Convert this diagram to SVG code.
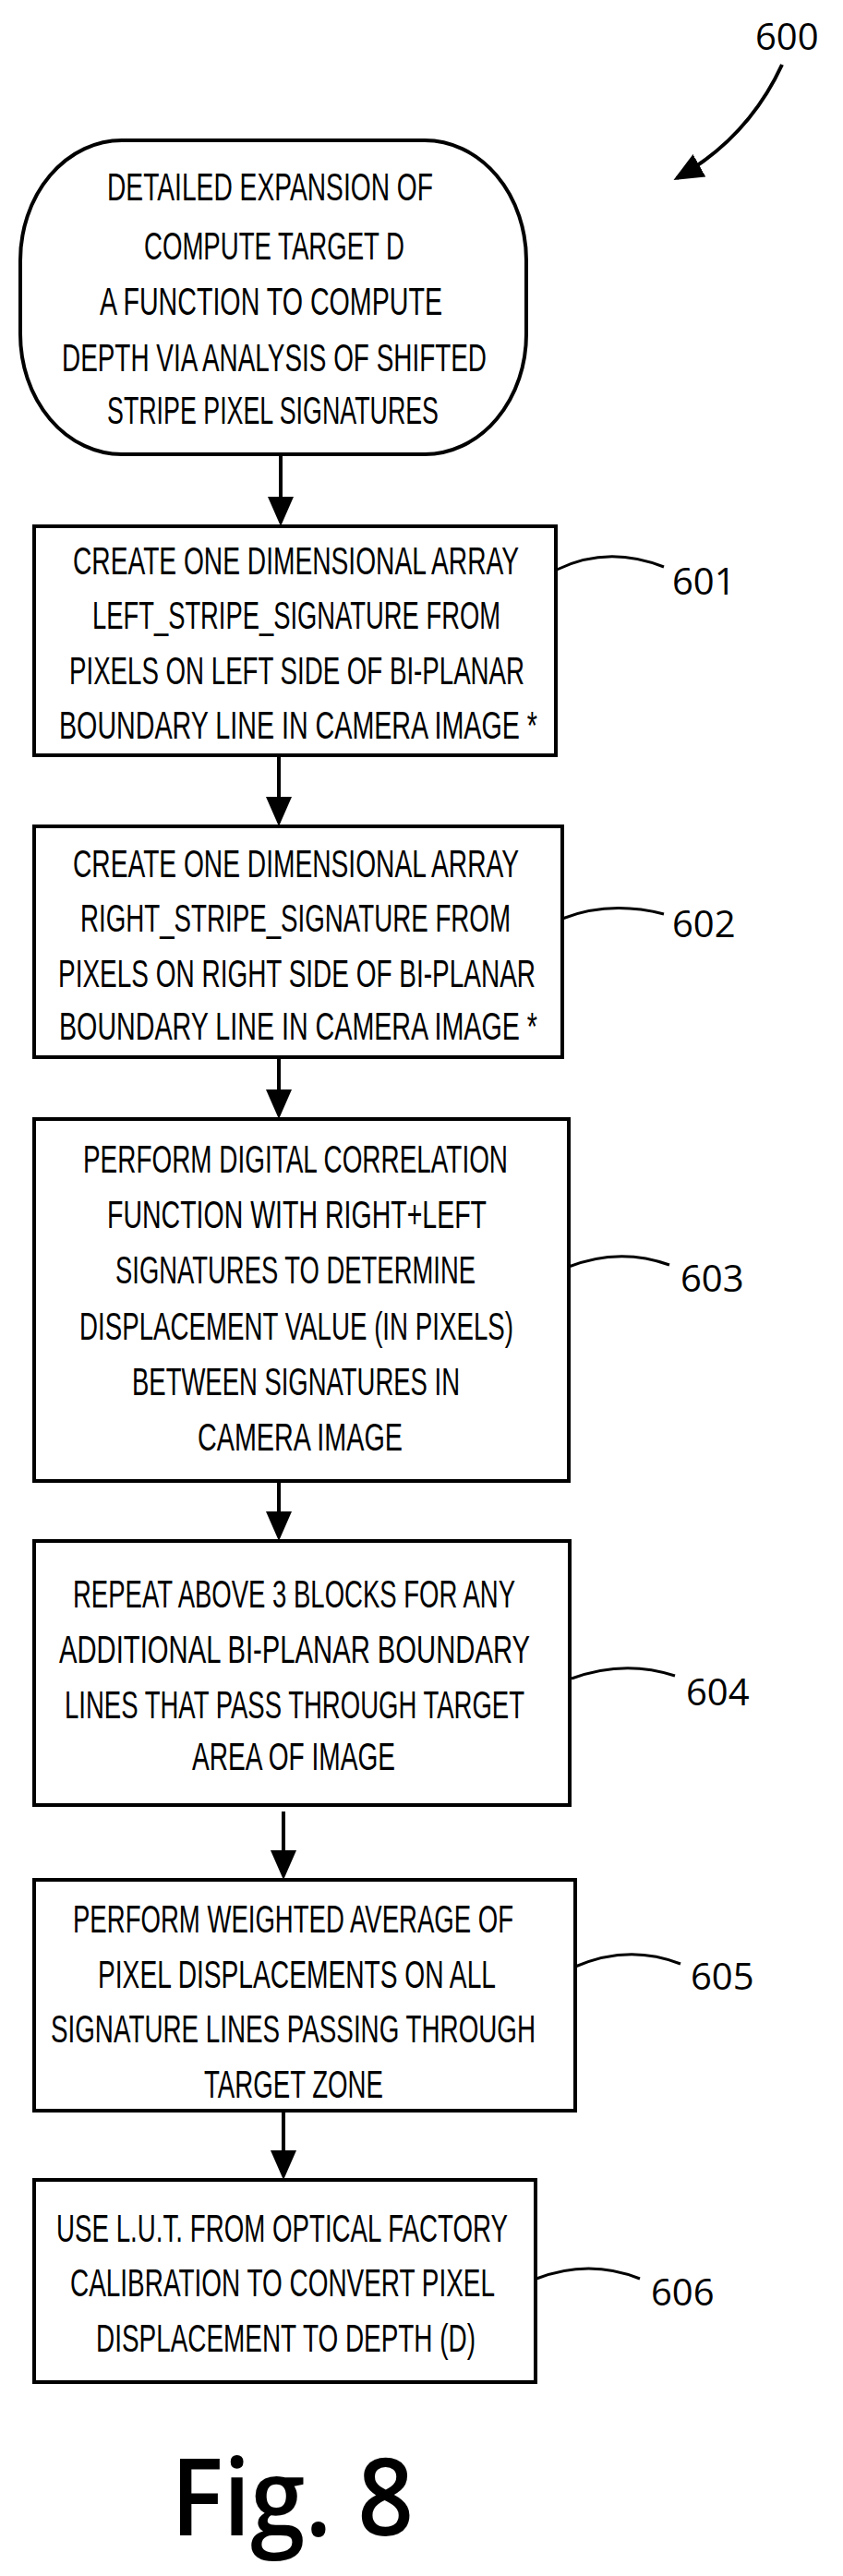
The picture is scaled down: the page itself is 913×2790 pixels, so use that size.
<svg xmlns="http://www.w3.org/2000/svg" width="913" height="2790" viewBox="0 0 913 2790">
<style>
.b{fill:#fff;stroke:#000;stroke-width:4}
.t{font-family:"Liberation Sans Narrow","Liberation Sans",Arial,sans-serif;font-size:42px;fill:#000}
.r{font-family:"Open Sans","DejaVu Sans",sans-serif;font-size:40px;fill:#000}
.c{fill:none;stroke:#000;stroke-width:4}
.l{fill:none;stroke:#000;stroke-width:3}
</style>
<defs><marker id="a" markerWidth="8" markerHeight="7" refX="7" refY="3.5" orient="auto" markerUnits="strokeWidth"><path d="M0,0L8,3.5L0,7z" fill="#000"/></marker></defs>
<rect width="913" height="2790" fill="#fff"/>
<g id="connectors">
<path class="c" d="M847,70 Q810,150 733,193" marker-end="url(#a)"/>
<line class="c" x1="304" y1="492" x2="304" y2="566" marker-end="url(#a)"/>
<line class="c" x1="302" y1="818" x2="302" y2="891" marker-end="url(#a)"/>
<line class="c" x1="302" y1="1145" x2="302" y2="1208" marker-end="url(#a)"/>
<line class="c" x1="302" y1="1604" x2="302" y2="1665" marker-end="url(#a)"/>
<line class="c" x1="307" y1="1962" x2="307" y2="2032" marker-end="url(#a)"/>
<line class="c" x1="307" y1="2286" x2="307" y2="2357" marker-end="url(#a)"/>
<path class="l" d="M603,617 Q658,590 719,614"/>
<path class="l" d="M609,995 Q660,975 719,990"/>
<path class="l" d="M613,1373 Q670,1350 725,1370"/>
<path class="l" d="M619,1818 Q676,1797 731,1815"/>
<path class="l" d="M623,2130 Q681,2105 737,2127"/>
<path class="l" d="M581,2468 Q638,2446 693,2468"/>
</g>
<g id="label600"><text class="r" x="818" y="54">600</text></g>
<g id="start">
<rect class="b" x="22" y="152" width="548" height="340" rx="110" ry="130"/>
<text class="t" x="116" y="217" textLength="353" lengthAdjust="spacingAndGlyphs">DETAILED EXPANSION OF</text>
<text class="t" x="156" y="281" textLength="282" lengthAdjust="spacingAndGlyphs">COMPUTE TARGET D</text>
<text class="t" x="108" y="341" textLength="371" lengthAdjust="spacingAndGlyphs">A FUNCTION TO COMPUTE</text>
<text class="t" x="67" y="402" textLength="460" lengthAdjust="spacingAndGlyphs">DEPTH VIA ANALYSIS OF SHIFTED</text>
<text class="t" x="116" y="459" textLength="359" lengthAdjust="spacingAndGlyphs">STRIPE PIXEL SIGNATURES</text>
</g>
<g id="n601">
<rect class="b" x="37" y="570" width="565" height="248"/>
<text class="t" x="79" y="622" textLength="483" lengthAdjust="spacingAndGlyphs">CREATE ONE DIMENSIONAL ARRAY</text>
<text class="t" x="100" y="681" textLength="442" lengthAdjust="spacingAndGlyphs">LEFT_STRIPE_SIGNATURE FROM</text>
<text class="t" x="75" y="741" textLength="493" lengthAdjust="spacingAndGlyphs">PIXELS ON LEFT SIDE OF BI-PLANAR</text>
<text class="t" x="64" y="800" textLength="518" lengthAdjust="spacingAndGlyphs">BOUNDARY LINE IN CAMERA IMAGE *</text>
<text class="r" x="728" y="644">601</text>
</g>
<g id="n602">
<rect class="b" x="37" y="895" width="572" height="250"/>
<text class="t" x="79" y="950" textLength="483" lengthAdjust="spacingAndGlyphs">CREATE ONE DIMENSIONAL ARRAY</text>
<text class="t" x="87" y="1009" textLength="466" lengthAdjust="spacingAndGlyphs">RIGHT_STRIPE_SIGNATURE FROM</text>
<text class="t" x="63" y="1069" textLength="517" lengthAdjust="spacingAndGlyphs">PIXELS ON RIGHT SIDE OF BI-PLANAR</text>
<text class="t" x="64" y="1126" textLength="518" lengthAdjust="spacingAndGlyphs">BOUNDARY LINE IN CAMERA IMAGE *</text>
<text class="r" x="728" y="1015">602</text>
</g>
<g id="n603">
<rect class="b" x="37" y="1212" width="579" height="392"/>
<text class="t" x="90" y="1270" textLength="460" lengthAdjust="spacingAndGlyphs">PERFORM DIGITAL CORRELATION</text>
<text class="t" x="116" y="1330" textLength="411" lengthAdjust="spacingAndGlyphs">FUNCTION WITH RIGHT+LEFT</text>
<text class="t" x="125" y="1390" textLength="390" lengthAdjust="spacingAndGlyphs">SIGNATURES TO DETERMINE</text>
<text class="t" x="86" y="1451" textLength="470" lengthAdjust="spacingAndGlyphs">DISPLACEMENT VALUE (IN PIXELS)</text>
<text class="t" x="143" y="1511" textLength="355" lengthAdjust="spacingAndGlyphs">BETWEEN SIGNATURES IN</text>
<text class="t" x="214" y="1571" textLength="222" lengthAdjust="spacingAndGlyphs">CAMERA IMAGE</text>
<text class="r" x="737" y="1399">603</text>
</g>
<g id="n604">
<rect class="b" x="37" y="1669" width="580" height="286"/>
<text class="t" x="79" y="1741" textLength="479" lengthAdjust="spacingAndGlyphs">REPEAT ABOVE 3 BLOCKS FOR ANY</text>
<text class="t" x="64" y="1801" textLength="510" lengthAdjust="spacingAndGlyphs">ADDITIONAL BI-PLANAR BOUNDARY</text>
<text class="t" x="70" y="1861" textLength="498" lengthAdjust="spacingAndGlyphs">LINES THAT PASS THROUGH TARGET</text>
<text class="t" x="208" y="1917" textLength="220" lengthAdjust="spacingAndGlyphs">AREA OF IMAGE</text>
<text class="r" x="743" y="1847">604</text>
</g>
<g id="n605">
<rect class="b" x="37" y="2036" width="586" height="250"/>
<text class="t" x="79" y="2093" textLength="477" lengthAdjust="spacingAndGlyphs">PERFORM WEIGHTED AVERAGE OF</text>
<text class="t" x="106" y="2153" textLength="431" lengthAdjust="spacingAndGlyphs">PIXEL DISPLACEMENTS ON ALL</text>
<text class="t" x="55" y="2212" textLength="525" lengthAdjust="spacingAndGlyphs">SIGNATURE LINES PASSING THROUGH</text>
<text class="t" x="221" y="2272" textLength="194" lengthAdjust="spacingAndGlyphs">TARGET ZONE</text>
<text class="r" x="748" y="2155">605</text>
</g>
<g id="n606">
<rect class="b" x="37" y="2361" width="543" height="219"/>
<text class="t" x="61" y="2428" textLength="489" lengthAdjust="spacingAndGlyphs">USE L.U.T. FROM OPTICAL FACTORY</text>
<text class="t" x="76" y="2487" textLength="460" lengthAdjust="spacingAndGlyphs">CALIBRATION TO CONVERT PIXEL</text>
<text class="t" x="104" y="2547" textLength="411" lengthAdjust="spacingAndGlyphs">DISPLACEMENT TO DEPTH (D)</text>
<text class="r" x="705" y="2497">606</text>
</g>
<g id="caption"><text x="185" y="2746" font-family="'Open Sans','DejaVu Sans',sans-serif" font-weight="600" font-size="116" textLength="263" lengthAdjust="spacingAndGlyphs">Fig. 8</text></g>
</svg>
